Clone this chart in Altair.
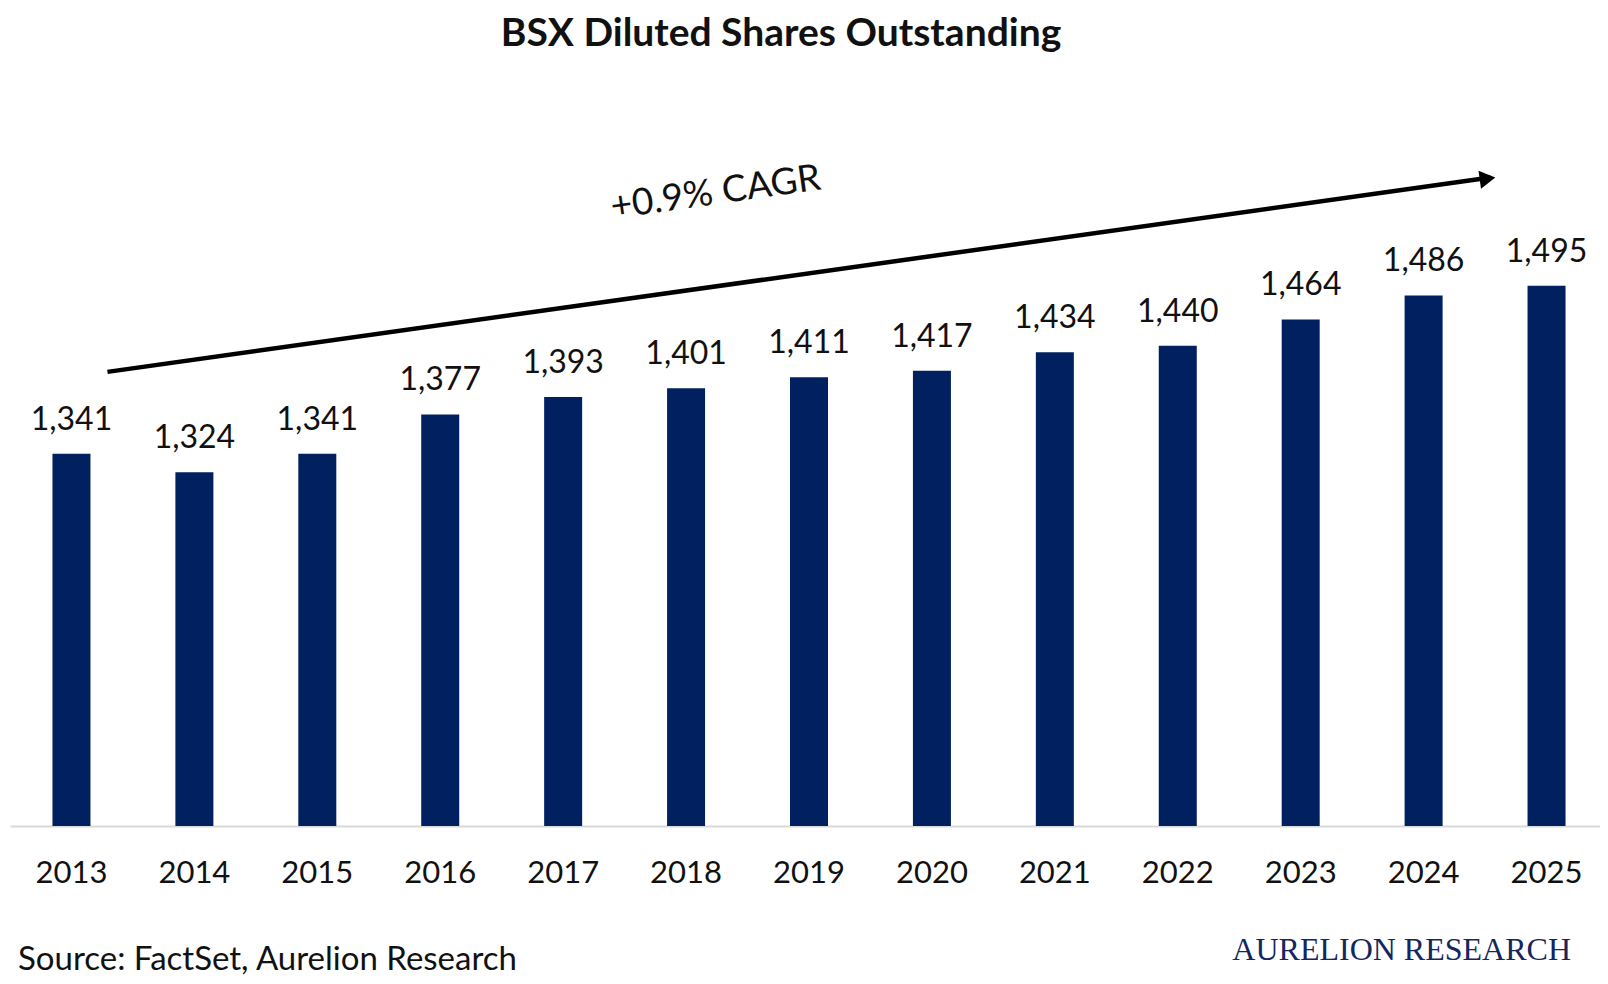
import pandas as pd
import altair as alt

# data
years = ["2013", "2014", "2015", "2016", "2017", "2018", "2019",
         "2020", "2021", "2022", "2023", "2024", "2025"]
shares = [1341, 1324, 1341, 1377, 1393, 1401, 1411, 1417, 1434, 1440, 1464, 1486, 1495]

# trend arrow annotation (start / end category and value)
arrow_years = ["2013", "2025"]
arrow_vals = [1416, 1594]
cagr_label = "+0.9% CAGR"
cagr_year = "2018"
cagr_val = 1576

title_text = "BSX Diluted Shares Outstanding"
source_text = "Source: FactSet, Aurelion Research"
brand_text = "AURELION RESEARCH"

NAVY = "#002060"
FONT = "Lato"
INK = "#111111"

df = pd.DataFrame({"year": years, "shares": shares})
arrow_df = pd.DataFrame({"x0": [arrow_years[0]], "x1": [arrow_years[1]],
                         "y0": [arrow_vals[0]], "y1": [arrow_vals[1]]})
head_df = pd.DataFrame({"year": [arrow_years[1]], "val": [arrow_vals[1]]})
cagr_df = pd.DataFrame({"year": [cagr_year], "val": [cagr_val], "label": [cagr_label]})
notes_df = pd.DataFrame({"title": [title_text], "src": [source_text], "brand": [brand_text]})

x_scale = alt.Scale(domain=years, paddingInner=0, paddingOuter=0, range=[0, 1598])
y_scale = alt.Scale(domain=[1000, 1600], zero=False, nice=False)

x_enc = alt.X("year:N", scale=x_scale, sort=years,
              axis=alt.Axis(title=None, labelAngle=0, ticks=False, tickSize=0,
                            domainColor="#d9d9d9", domainWidth=2,
                            labelFont=FONT, labelFontSize=31, labelColor=INK,
                            labelBaseline="alphabetic", labelPadding=56, grid=False))
y_enc = alt.Y("shares:Q", scale=y_scale, axis=None)

bars = alt.Chart(df).mark_bar(size=38, color=NAVY).encode(
    x=x_enc,
    y=y_enc,
    y2=alt.datum(1000)
)

labels = alt.Chart(df).mark_text(font=FONT, fontSize=32, color=INK,
                                 baseline="alphabetic", dy=-24).encode(
    x=alt.X("year:N", scale=x_scale, sort=years),
    y=alt.Y("shares:Q", scale=y_scale),
    text=alt.Text("shares:Q", format=",")
)

arrow_line = alt.Chart(arrow_df).mark_rule(color="black", strokeWidth=4.5,
                                           xOffset=36, x2Offset=-56).encode(
    x=alt.X("x0:N", scale=x_scale),
    x2="x1:N",
    y=alt.Y("y0:Q", scale=y_scale),
    y2="y1:Q"
)

arrow_head = alt.Chart(head_df).mark_point(shape="triangle-right", filled=True, color="black",
                                           opacity=1, size=330, angle=352,
                                           xOffset=-59, yOffset=1).encode(
    x=alt.X("year:N", scale=x_scale),
    y=alt.Y("val:Q", scale=y_scale)
)

cagr = alt.Chart(cagr_df).mark_text(font=FONT, fontSize=37, color=INK, angle=352,
                                    align="center", baseline="middle", dx=30).encode(
    x=alt.X("year:N", scale=x_scale),
    y=alt.Y("val:Q", scale=y_scale),
    text="label:N"
)

title = alt.Chart(notes_df).mark_text(font=FONT, fontSize=39, fontWeight="bold", color=INK,
                                      align="center", baseline="alphabetic").encode(
    x=alt.value(771), y=alt.value(-125), text="title:N"
)

source = alt.Chart(notes_df).mark_text(font=FONT, fontSize=33, color=INK,
                                       align="left", baseline="alphabetic").encode(
    x=alt.value(8), y=alt.value(799), text="src:N"
)

brand = alt.Chart(notes_df).mark_text(font="Liberation Serif", fontSize=32, color="#13275e",
                                      align="right", baseline="alphabetic").encode(
    x=alt.value(1561), y=alt.value(789), text="brand:N"
)

chart = (bars + labels + arrow_line + arrow_head + cagr + title + source + brand).properties(
    width=1590,
    height=655,
    padding={"left": 2, "top": 163, "right": 0, "bottom": 150},
    autosize=alt.AutoSizeParams(type="none")
).configure_view(stroke=None)

chart.save("out.html", embed_options={"renderer": "svg", "actions": False})
